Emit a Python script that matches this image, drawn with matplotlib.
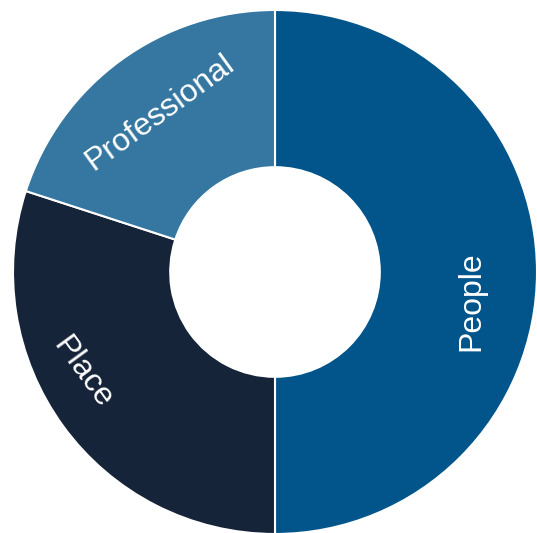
import numpy as np
import matplotlib
matplotlib.use("Agg")
import matplotlib.pyplot as plt

labels = ["People", "Place", "Professional"]
shares = [50, 30, 20]
colors = ["#02558A", "#16243A", "#3577A0"]

plt.rcParams['font.family'] = ['Liberation Sans', 'DejaVu Sans']

fig = plt.figure(figsize=(5.37, 5.33), dpi=100)
ax = fig.add_axes([0, 0, 1, 1])

wedges, _ = ax.pie(shares, colors=colors, startangle=90, counterclock=False,
                   radius=1, wedgeprops=dict(width=0.6, edgecolor="white", linewidth=1.5))

# label radius and shift along the reading direction (data units)
radii = [0.75, 0.82, 0.75]
shifts = [-0.11, -0.12, 0.0]
for w, lab, r, sh in zip(wedges, labels, radii, shifts):
    mid = (w.theta1 + w.theta2) / 2.0
    rot = (mid - 90 + 180) % 360 - 180
    if rot > 90:
        rot -= 180
    if rot <= -90:
        rot += 180
    x = r * np.cos(np.radians(mid)) + sh * np.cos(np.radians(rot))
    y = r * np.sin(np.radians(mid)) + sh * np.sin(np.radians(rot))
    ax.text(x, y, lab, color="white", fontsize=23, rotation=rot,
            ha="center", va="center", rotation_mode="anchor")

ax.set_xlim(-275 / 262, 262 / 262)
ax.set_ylim(-261 / 262, 272 / 262)
ax.set_aspect("equal")
ax.axis("off")

fig.savefig("out.png", dpi=100)
